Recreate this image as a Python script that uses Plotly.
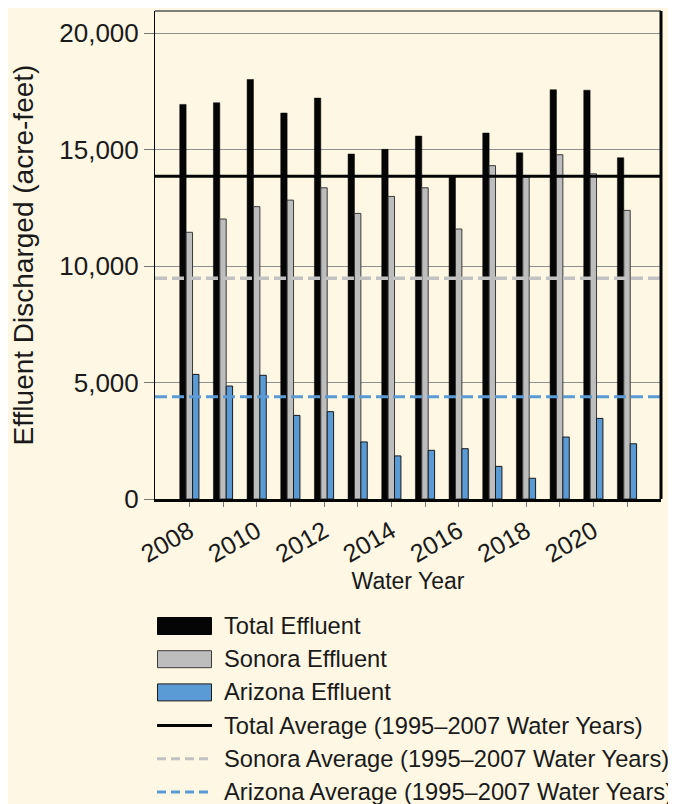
import plotly.graph_objects as go

# ---------------- data ----------------
years = [str(y) for y in range(2008, 2022)]
tick_labels = [y if int(y) % 2 == 0 else "" for y in years]
total_effluent = [16940, 17010, 18010, 16570, 17210, 14810, 15010, 15580, 13880, 15710, 14860, 17570, 17550, 14650]
sonora_effluent = [11450, 12020, 12550, 12830, 13360, 12260, 12990, 13360, 11590, 14310, 13830, 14780, 13960, 12390]
arizona_effluent = [5350, 4850, 5310, 3590, 3750, 2450, 1850, 2090, 2160, 1400, 890, 2660, 3460, 2370]
total_avg = 13860
sonora_avg = 9480
arizona_avg = 4390
y_ticks = [0, 5000, 10000, 15000, 20000]

# ---------------- style ----------------
BG = "#fdf7e4"
BLACK = "#050505"
GRAY = "#bdbdbd"
GRAY_LINE = "#c2c2c2"
BLUE = "#5b9bd5"
FONT = "Liberation Sans"

OFF = 8  # default page body margin
W, H = 676 - OFF, 804 - OFF
# plot area in window pixels: x 155..661, y 11..499
PL, PR, PT, PB = 155, 661, 11, 499
L, T = PL - OFF, PT - OFF
R = W - (PR - OFF)
B = H - (PB - OFF)
PW, PH = PR - PL, PB - PT


def px(xp):
    return (xp - PL) / PW


def py(yp):
    return (PB - yp) / PH


fig = go.Figure()
fig.add_trace(go.Bar(x=years, y=total_effluent, name="Total Effluent",
                     marker=dict(color=BLACK, line=dict(color=BLACK, width=0.5))))
fig.add_trace(go.Bar(x=years, y=sonora_effluent, name="Sonora Effluent",
                     marker=dict(color=GRAY, line=dict(color="#3a3a3a", width=1))))
fig.add_trace(go.Bar(x=years, y=arizona_effluent, name="Arizona Effluent",
                     marker=dict(color=BLUE, line=dict(color="#1a1a1a", width=1))))

shapes = []
# average lines
shapes.append(dict(type="line", xref="paper", yref="y", x0=0, x1=1, y0=total_avg, y1=total_avg,
                   line=dict(color=BLACK, width=3), layer="above"))
shapes.append(dict(type="line", xref="paper", yref="y", x0=0, x1=1, y0=sonora_avg, y1=sonora_avg,
                   line=dict(color=GRAY_LINE, width=3.5, dash="12px,5px"), layer="above"))
shapes.append(dict(type="line", xref="paper", yref="y", x0=0, x1=1, y0=arizona_avg, y1=arizona_avg,
                   line=dict(color=BLUE, width=3, dash="12px,5px"), layer="above"))
# frame
shapes.append(dict(type="line", xref="paper", yref="paper", x0=0, x1=1, y0=1, y1=1,
                   line=dict(color="#555555", width=1.5), layer="above"))
shapes.append(dict(type="line", xref="paper", yref="paper", x0=1, x1=1, y0=0, y1=1,
                   line=dict(color=BLACK, width=3), layer="above"))

# custom legend
legend_items = [
    ("rect", BLACK, BLACK, None, "Total Effluent"),
    ("rect", GRAY, "#3a3a3a", None, "Sonora Effluent"),
    ("rect", BLUE, "#1a1a1a", None, "Arizona Effluent"),
    ("line", BLACK, None, "solid", "Total Average (1995\u20132007 Water Years)"),
    ("line", GRAY_LINE, None, "9px,5px", "Sonora Average (1995\u20132007 Water Years)"),
    ("line", BLUE, None, "9px,5px", "Arizona Average (1995\u20132007 Water Years)"),
]
annotations = []
y0_leg, dy_leg = 626, 33.2
for i, (kind, col, lcol, dash, label) in enumerate(legend_items):
    yc = y0_leg + i * dy_leg
    if kind == "rect":
        shapes.append(dict(type="rect", xref="paper", yref="paper",
                           x0=px(157.5), x1=px(211.5), y0=py(yc + 8.5), y1=py(yc - 8.5),
                           fillcolor=col, line=dict(color=lcol, width=1)))
    else:
        shapes.append(dict(type="line", xref="paper", yref="paper",
                           x0=px(157), x1=px(212), y0=py(yc), y1=py(yc),
                           line=dict(color=col, width=3, dash=dash)))
    annotations.append(dict(xref="paper", yref="paper", x=px(222), y=py(yc), text=label,
                            showarrow=False, xanchor="left", yanchor="middle",
                            font=dict(family=FONT, size=23.7, color="#1a1a1a")))

fig.update_layout(
    width=W, height=H,
    margin=dict(l=L, r=R, t=T, b=B),
    paper_bgcolor=BG, plot_bgcolor=BG,
    barmode="group", bargap=0.43, bargroupgap=0.0,
    showlegend=False,
    shapes=shapes, annotations=annotations,
    font=dict(family=FONT, color="#1a1a1a"),
)
fig.update_xaxes(
    type="category", range=[-1.02, 14.01],
    tickmode="array", tickvals=years, ticktext=tick_labels,
    tickangle=-30, tickfont=dict(family=FONT, size=25, color="#1a1a1a"),
    ticks="outside", ticklen=5, tickcolor="#777777",
    showline=True, linecolor=BLACK, linewidth=3,
    showgrid=False,
    title=dict(text="Water Year", font=dict(family=FONT, size=23, color="#1a1a1a"), standoff=7),
)
fig.update_yaxes(
    range=[0, 20950],
    tickmode="array", tickvals=y_ticks, tickformat=",",
    tickfont=dict(family=FONT, size=26, color="#1a1a1a"),
    ticks="outside", ticklen=10, tickcolor="#777777",
    showline=True, linecolor=BLACK, linewidth=1,
    showgrid=True, gridcolor="#8f8f8f", gridwidth=1, zeroline=False,
    title=dict(text="Effluent Discharged (acre-feet)", font=dict(family=FONT, size=28, color="#1a1a1a"), standoff=22),
)

fig.write_html("out.html")
